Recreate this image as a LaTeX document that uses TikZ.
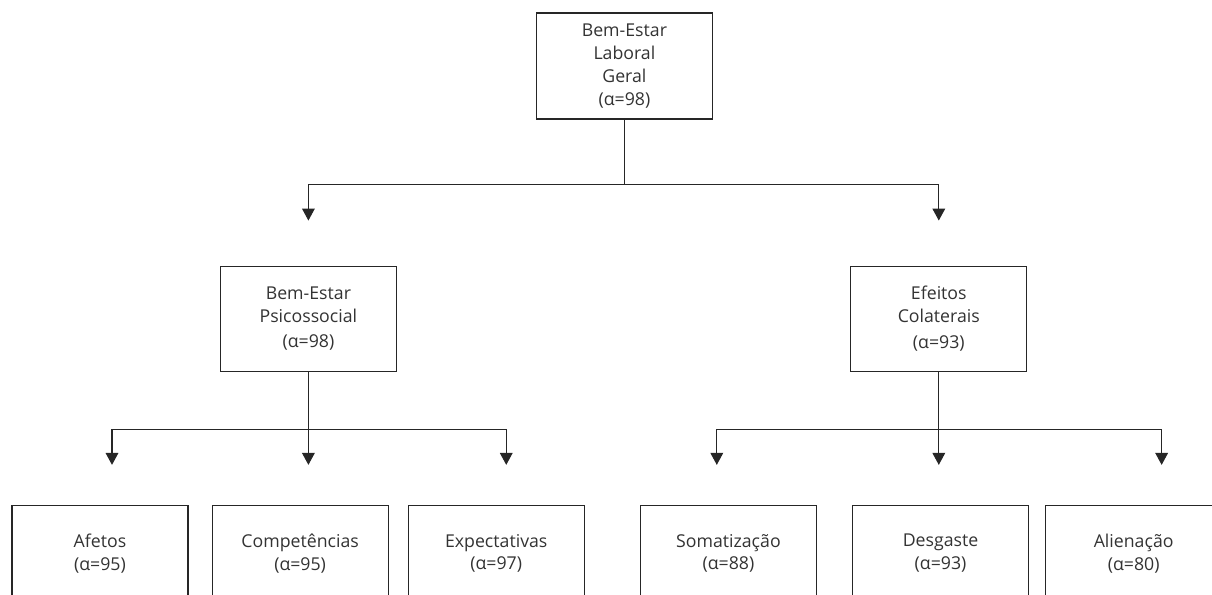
\documentclass[tikz,border=0pt]{standalone}
\usepackage{fontspec}
\setmainfont{Open Sans}
\usetikzlibrary{arrows.meta,positioning}

\begin{document}
\begin{tikzpicture}[
  box/.style={draw=black!85, line width=0.8pt, align=center, text=black!80, font=\fontsize{12.6}{16.2}\selectfont, minimum width=4.4cm, minimum height=2.63cm, inner sep=2pt},
  flow/.style={draw=black!85, line width=0.8pt, -{Triangle[width=9pt,length=8.5pt]}}]
\useasboundingbox (0,0) rectangle (30.3,-14.875);
\clip (0,0) rectangle (30.3,-14.875);
\node[box, minimum height=2.65cm] (bel) at (15.61,-1.65) {Bem-Estar\\Laboral\\Geral\\(α=98)};
\node[box, below=3.65cm of bel, xshift=-7.9cm] (psi) {Bem-Estar\\Psicossocial\\[2pt](α=98)};
\node[box, below=3.65cm of bel, xshift=7.86cm] (efe) {Efeitos\\Colaterais\\[2pt](α=93)};
\node[box, below=3.325cm of psi, xshift=-5.21cm, minimum height=2.4cm] (afe) {Afetos\\(α=95)};
\node[box, right=0.575cm of afe, minimum height=2.4cm] (comp) {Competências\\(α=95)};
\node[box, right=0.475cm of comp, minimum height=2.4cm] (expe) {Expectativas\\(α=97)};
\node[box, below=3.325cm of efe, xshift=-5.26cm, minimum height=2.4cm] (soma) {Somatização\\(α=88)};
\node[box, right=0.875cm of soma, minimum height=2.4cm] (desg) {Desgaste\\(α=93)};
\node[box, right=0.4cm of desg, minimum height=2.4cm] (alie) {Alienação\\(α=80)};
% arrow tips above the boxes
\coordinate[above=1.125cm of psi] (psi-in);
\coordinate[above=1.125cm of efe] (efe-in);
\coordinate[above=1cm of afe, xshift=0.3cm] (afe-in);
\coordinate (comp-in) at (psi.south |- afe-in);
\coordinate[above=1cm of expe, xshift=0.25cm] (expe-in);
\coordinate[above=1cm of soma, xshift=-0.29cm] (soma-in);
\coordinate (desg-in) at (efe.south |- soma-in);
\coordinate[above=1cm of alie, xshift=0.7cm] (alie-in);
\draw[flow] (bel.south) -- ++(0,-1.625) -| (psi-in);
\draw[flow] (bel.south) -- ++(0,-1.625) -| (efe-in);
\draw[flow] (psi.south) -- ++(0,-1.44) -| (afe-in);
\draw[flow] (psi.south) -- (comp-in);
\draw[flow] (psi.south) -- ++(0,-1.44) -| (expe-in);
\draw[flow] (efe.south) -- ++(0,-1.44) -| (soma-in);
\draw[flow] (efe.south) -- (desg-in);
\draw[flow] (efe.south) -- ++(0,-1.44) -| (alie-in);
\end{tikzpicture}
\end{document}
